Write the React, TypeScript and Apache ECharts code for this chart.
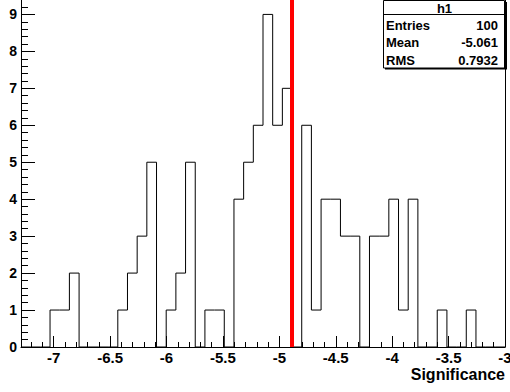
import React, { useEffect, useRef } from "react";
import * as echarts from "echarts";

// Histogram "h1": 50 bins between binLow and binHigh
const binLow = -7.29;
const binHigh = -3.0;
const counts = [
  0, 0, 0, 1, 1, 2, 0, 0, 0, 0,
  1, 2, 3, 5, 0, 1, 2, 5, 0, 1,
  1, 0, 4, 5, 6, 9, 6, 7, 0, 6,
  1, 4, 4, 3, 3, 0, 3, 3, 4, 1,
  4, 0, 0, 1, 0, 0, 1, 0, 0, 0,
];
const cutValue = -4.89;

const statTitle = "h1";
const statNames = ["Entries", "Mean", "RMS"];
const statValues = ["100", "-5.061", "0.7932"];

const xTitle = "Significance";
const xMajorTicks = [-7, -6.5, -6, -5.5, -5, -4.5, -4, -3.5, -3];
const yMajorTicks = [0, 1, 2, 3, 4, 5, 6, 7, 8, 9];
const yMax = 9.39;

const FONT = "'Liberation Sans', Arial, Helvetica, sans-serif";

function buildMinor(start: number, end: number, step: number, majors: number[]) {
  const out: number[] = [];
  const n = Math.round((end - start) / step);
  for (let i = 0; i <= n; i++) {
    const v = Math.round((start + i * step) * 1000) / 1000;
    if (!majors.some((m) => Math.abs(m - v) < 1e-6)) out.push(v);
  }
  return out;
}

export default function App() {
  const ref = useRef<HTMLDivElement>(null);

  useEffect(() => {
    if (!ref.current) return;
    const chart = echarts.init(ref.current, undefined, { renderer: "svg" });

    const width = (binHigh - binLow) / counts.length;
    const points: [number, number][] = counts.map((c, i) => [binLow + i * width, c]);
    points.push([binHigh, counts[counts.length - 1]]);

    const xMinor = buildMinor(-7.2, -3.0, 0.1, xMajorTicks);
    const yMinor = buildMinor(0, 9.2, 0.2, yMajorTicks);

    const axisLineStyle = { color: "#000", width: 1 };

    const boxL = 383.5;
    const boxR = 505.5;
    const boxT = 0.5;
    const boxB = 68;

    chart.setOption({
      animation: false,
      grid: { left: 21, right: 5, top: 0, bottom: 45, containLabel: false, outerBoundsMode: "none" },
      xAxis: [
        {
          type: "value",
          min: binLow,
          max: binHigh,
          position: "bottom",
          axisLine: { show: true, lineStyle: axisLineStyle },
          axisTick: { show: true, inside: true, length: 11, customValues: xMajorTicks, lineStyle: axisLineStyle },
          axisLabel: {
            show: true,
            customValues: xMajorTicks,
            color: "#000",
            fontFamily: FONT,
            fontWeight: "bold",
            fontSize: 15,
            margin: 3,
            hideOverlap: false,
          },
          splitLine: { show: false },
        },
        {
          type: "value",
          min: binLow,
          max: binHigh,
          position: "bottom",
          axisLine: { show: false },
          axisTick: { show: true, inside: true, length: 5, customValues: xMinor, lineStyle: axisLineStyle },
          axisLabel: { show: false },
          splitLine: { show: false },
        },
      ],
      yAxis: [
        {
          type: "value",
          min: 0,
          max: yMax,
          position: "left",
          axisLine: { show: true, lineStyle: axisLineStyle },
          axisTick: { show: true, inside: true, length: 14, customValues: yMajorTicks, lineStyle: axisLineStyle },
          axisLabel: {
            show: true,
            customValues: yMajorTicks,
            color: "#000",
            fontFamily: FONT,
            fontWeight: "bold",
            fontSize: 14,
            margin: 4,
          },
          splitLine: { show: false },
        },
        {
          type: "value",
          min: 0,
          max: yMax,
          position: "left",
          axisLine: { show: false },
          axisTick: { show: true, inside: true, length: 7, customValues: yMinor, lineStyle: axisLineStyle },
          axisLabel: { show: false },
          splitLine: { show: false },
        },
        {
          type: "value",
          min: 0,
          max: yMax,
          position: "right",
          axisLine: { show: true, lineStyle: axisLineStyle },
          axisTick: { show: false },
          axisLabel: { show: false },
          splitLine: { show: false },
        },
      ],
      series: [
        {
          type: "line",
          xAxisIndex: 0,
          yAxisIndex: 0,
          step: "end",
          symbol: "none",
          data: points,
          lineStyle: { color: "#000", width: 1 },
          silent: true,
          markLine: {
            silent: true,
            symbol: ["none", "none"],
            label: { show: false },
            lineStyle: { color: "#ff0000", width: 4, type: "solid" },
            data: [{ xAxis: cutValue }],
          },
        },
      ],
      graphic: [
        {
          type: "text",
          right: 5,
          top: 366,
          style: {
            text: xTitle,
            fill: "#000",
            font: `bold 16px ${FONT}`,
            textAlign: "right",
          },
        },
        {
          type: "rect",
          shape: { x: boxL + 1.5, y: boxT + 1.5, width: boxR - boxL, height: boxB - boxT },
          style: { fill: "#000" },
          z: 10,
        },
        {
          type: "rect",
          shape: { x: boxL, y: boxT, width: boxR - boxL - 1, height: boxB - boxT },
          style: { fill: "#fff", stroke: "#000", lineWidth: 1 },
          z: 11,
        },
        {
          type: "line",
          shape: { x1: boxL, y1: 14.5, x2: boxR - 1, y2: 14.5 },
          style: { stroke: "#000", lineWidth: 1 },
          z: 12,
        },
        {
          type: "text",
          x: (boxL + boxR) / 2,
          y: 8,
          style: {
            text: statTitle,
            fill: "#000",
            font: `bold 13px ${FONT}`,
            textAlign: "center",
            textVerticalAlign: "middle",
          },
          z: 12,
        },
        ...statNames.map((name, i) => ({
          type: "text",
          x: 386,
          y: 25.5 + i * 17.3,
          style: {
            text: name,
            fill: "#000",
            font: `bold 13px ${FONT}`,
            textAlign: "left",
            textVerticalAlign: "middle",
          },
          z: 12,
        })),
        ...statValues.map((val, i) => ({
          type: "text",
          x: 498,
          y: 25.5 + i * 17.3,
          style: {
            text: val,
            fill: "#000",
            font: `bold 13px ${FONT}`,
            textAlign: "right",
            textVerticalAlign: "middle",
          },
          z: 12,
        })),
      ],
    });

    return () => chart.dispose();
  }, []);

  return (
    <div
      ref={ref}
      style={{ position: "fixed", left: 0, top: 0, width: 510, height: 392, background: "#fff" }}
    />
  );
}
